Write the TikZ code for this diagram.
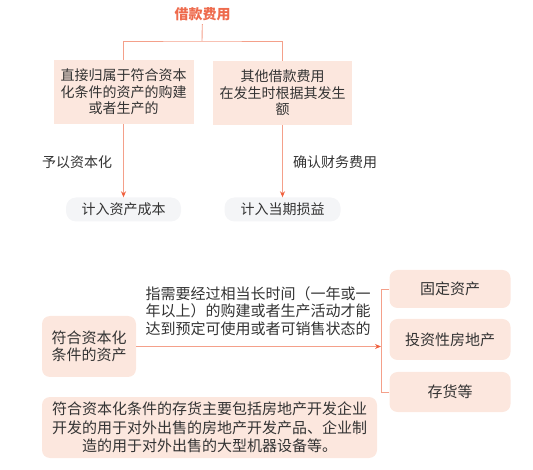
\documentclass[tikz,border=0pt]{standalone}
\usepackage{fontspec}
\newfontfamily\cjk{Noto Sans CJK SC}
\usetikzlibrary{arrows.meta}

\definecolor{linec}{HTML}{F4A08A}
\definecolor{tipc}{HTML}{F0603E}
\definecolor{titlec}{HTML}{EE6B4D}
\definecolor{peach}{HTML}{FCE7DE}
\definecolor{greyc}{HTML}{F4F5F7}
\definecolor{ink}{HTML}{333333}

\begin{document}
\begin{tikzpicture}[x=1pt,y=-1pt,
    link/.style = {draw=linec, line width=0.9pt},
    arrow/.style = {link, -{Stealth[length=6pt,width=5pt,color=tipc]}},
    small/.style = {font=\cjk\fontsize{14}{16.5}\selectfont, text=ink, align=center},
    big/.style = {font=\cjk\fontsize{15}{17.5}\selectfont, text=ink, align=center},
    card/.style = {small, fill=peach, inner sep=0pt},
    pill/.style = {small, fill=greyc, inner sep=0pt, rounded corners=10pt,
                   minimum height=24pt},
    tag/.style = {big, fill=peach, inner sep=0pt, rounded corners=8pt}]
    \useasboundingbox (0,0) rectangle (533,470);

    % upper tree
    \node[font=\cjk\bfseries\fontsize{14}{16}\selectfont, text=titlec] (title) at (202.5,14) {借款费用};
    \coordinate (split) at (202,41);

    \node[card, minimum width=140pt, minimum height=64pt] (direct) at (123.5,92)
        {直接归属于符合资本\\化条件的资产的购建\\或者生产的};
    \node[card, minimum width=139pt, minimum height=64pt] (other) at (282.5,93)
        {其他借款费用\\在发生时根据其发生\\额};

    \node[pill, minimum width=115pt] (cost) at (123.5,209.5) {计入资产成本};
    \node[pill, minimum width=116pt] (profit) at (282.5,209.5) {计入当期损益};

    \node[small] (capital) at (77,162) {予以资本化};
    \node[small] (expense) at (335,162) {确认财务费用};

    \draw[link] (title) -- (split);
    \draw[link] (direct.north) |- (split) -| (other.north);
    \draw[arrow] (direct.south) -- (cost.north);
    \draw[arrow] (other.south) -- (profit.north);

    % lower part
    \node[tag, minimum width=94pt, minimum height=61pt] (asset) at (89,346.5)
        {符合资本化\\条件的资产};
    \node[big] (meaning) at (258,311)
        {指需要经过相当长时间（一年或一\\年以上）的购建或者生产活动才能\\达到预定可使用或者可销售状态的};

    \node[tag, minimum width=121pt, minimum height=38pt] (fixed) at (450,289) {固定资产};
    \node[tag, minimum width=121pt, minimum height=41pt] (invest) at (450,339.5) {投资性房地产};
    \node[tag, minimum width=121pt, minimum height=40pt] (stock) at (450,392) {存货等};
    \coordinate (hub) at (381,346.5);

    \draw[arrow] (asset.east) -- (hub);
    \draw[link] (fixed.west) -| (hub);
    \draw[link] (stock.west) -| (hub);

    \node[tag, font=\cjk\fontsize{15}{18.5}\selectfont, minimum width=335pt, minimum height=61pt] (note) at (209.5,427.5)
        {符合资本化条件的存货主要包括房地产开发企业\\开发的用于对外出售的房地产开发产品、企业制\\造的用于对外出售的大型机器设备等。};
\end{tikzpicture}
\end{document}
